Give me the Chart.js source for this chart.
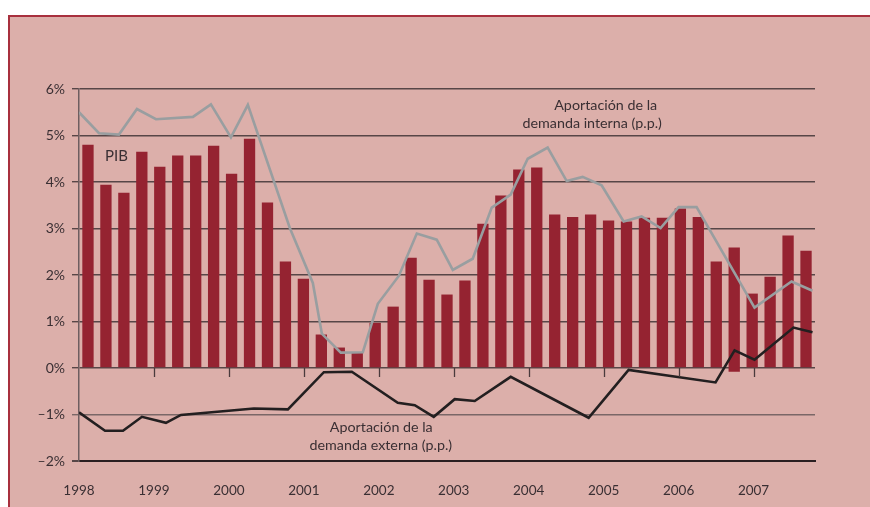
<!DOCTYPE html>
<html>
<head>
<meta charset="utf-8">
<script src="https://cdn.jsdelivr.net/npm/chart.js@4.4.1/dist/chart.umd.min.js"></script>
<style>
  html, body { margin: 0; padding: 0; background: #ffffff; width: 870px; height: 507px; overflow: hidden; }
  #frame { position: absolute; left: 8px; top: 15px; width: 880px; height: 520px;
           background: #dcafaa; border-left: 2px solid #a8303e; border-top: 2px solid #a8303e; }
  #c { position: absolute; left: 0; top: 0; }
</style>
</head>
<body>
<div id="frame"></div>
<canvas id="c" width="870" height="507"></canvas>
<script>
// ---- Data ----
const quarters = [
  "1998-T1","1998-T2","1998-T3","1998-T4","1999-T1","1999-T2","1999-T3","1999-T4",
  "2000-T1","2000-T2","2000-T3","2000-T4","2001-T1","2001-T2","2001-T3","2001-T4",
  "2002-T1","2002-T2","2002-T3","2002-T4","2003-T1","2003-T2","2003-T3","2003-T4",
  "2004-T1","2004-T2","2004-T3","2004-T4","2005-T1","2005-T2","2005-T3","2005-T4",
  "2006-T1","2006-T2","2006-T3","2006-T4","2007-T1","2007-T2","2007-T3","2007-T4","2008-T1"
];
const pib = [
  4.80, 3.94, 3.77, 4.65, 4.33, 4.57, 4.57, 4.78, 4.18, 4.93,
  3.56, 2.29, 1.92, 0.72, 0.44, 0.33, 0.97, 1.32, 2.37, 1.90,
  1.58, 1.88, 3.10, 3.71, 4.27, 4.31, 3.30, 3.25, 3.30, 3.17,
  3.15, 3.23, 3.23, 3.43, 3.25, 2.29, 2.59, 1.60, 1.96, 2.85, 2.52
];
const pibBase = [
  0,0,0,0,0,0,0,0,0,0, 0,0,0,0,0,0,0,0,0,0,
  0,0,0,0,0,0,0,0,0,0, 0,0,0,0,0,0,-0.08,0,0,0,0
];
const internaX = [
  1998.000, 1998.267, 1998.533, 1998.773, 1999.027, 1999.520, 1999.760, 2000.027,
  2000.253, 2000.813, 2001.120, 2001.240, 2001.493, 2001.787, 2001.987, 2002.267,
  2002.507, 2002.773, 2002.987, 2003.253, 2003.507, 2003.760, 2003.987, 2004.253,
  2004.507, 2004.720, 2004.973, 2005.267, 2005.507, 2005.760, 2006.000, 2006.240,
  2007.013, 2007.507, 2007.787
];
const internaY = [
  5.50, 5.05, 5.02, 5.57, 5.35, 5.40, 5.67, 4.96,
  5.66, 3.01, 1.83, 0.74, 0.33, 0.34, 1.38, 1.98,
  2.89, 2.76, 2.11, 2.35, 3.45, 3.73, 4.50, 4.74,
  4.02, 4.11, 3.93, 3.15, 3.26, 3.01, 3.46, 3.46,
  1.30, 1.86, 1.66
];
const externaX = [
  1998.000, 1998.347, 1998.587, 1998.840, 1999.160, 1999.360, 2000.333, 2000.787,
  2001.267, 2001.640, 2002.253, 2002.480, 2002.733, 2003.013, 2003.280, 2003.760,
  2004.800, 2005.333, 2006.493, 2006.747, 2007.013, 2007.533, 2007.787
];
const externaY = [
  -0.955, -1.35, -1.35, -1.05, -1.18, -1.01, -0.87, -0.89,
  -0.09, -0.08, -0.75, -0.80, -1.05, -0.67, -0.71, -0.19,
  -1.07, -0.04, -0.31, 0.38, 0.18, 0.87, 0.77
];
const yearTicks = [1998, 1999, 2000, 2001, 2002, 2003, 2004, 2005, 2006, 2007];
const yearLabels = ["1998", "1999", "2000", "2001", "2002", "2003", "2004", "2005", "2006", "2007"];
const yTickValues = [-2, -1, 0, 1, 2, 3, 4, 5, 6];
const yTickLabels = ["\u20132%", "\u20131%", "0%", "1%", "2%", "3%", "4%", "5%", "6%"];
const labelPIB = "PIB";
const labelInterna = ["Aportación de la", "demanda interna (p.p.)"];
const labelExterna = ["Aportación de la", "demanda externa (p.p.)"];

// ---- Style ----
const FONT = "Lato";
const TEXT = "#3a2f33";
const BAR = "#952331";
const GRAY = "#999ea0";
const BLACK = "#231f20";

const annotations = {
  id: "annotations",
  afterDatasetsDraw(chart) {
    const ctx = chart.ctx;
    const xs = chart.scales.x, ys = chart.scales.y;
    ctx.save();
    ctx.strokeStyle = "#4a3b3d";
    ctx.lineWidth = 1.3;
    const y0 = ys.getPixelForValue(0);
    yearTicks.slice(1).forEach(v => {
      const px = Math.round(xs.getPixelForValue(v)) + 0.5;
      ctx.beginPath(); ctx.moveTo(px, y0); ctx.lineTo(px, y0 + 9); ctx.stroke();
    });
    ctx.restore();
  },
  afterDraw(chart) {
    const ctx = chart.ctx;
    const xs = chart.scales.x, ys = chart.scales.y;
    ctx.save();
    ctx.fillStyle = TEXT;
    ctx.textBaseline = "alphabetic";
    ctx.font = "15px " + FONT;
    ctx.textAlign = "left";
    ctx.fillText(labelPIB, xs.getPixelForValue(1998.347), ys.getPixelForValue(4.46));
    ctx.textAlign = "center";
    ctx.font = "14.3px " + FONT;
    ctx.fillText(labelInterna[0], xs.getPixelForValue(2005.027), ys.getPixelForValue(5.555));
    ctx.fillText(labelInterna[1], xs.getPixelForValue(2004.847), ys.getPixelForValue(5.16));
    ctx.fillText(labelExterna[0], xs.getPixelForValue(2002.033), ys.getPixelForValue(-1.385));
    ctx.fillText(labelExterna[1], xs.getPixelForValue(2002.027), ys.getPixelForValue(-1.772));
    ctx.restore();
  }
};

new Chart(document.getElementById("c"), {
  type: "bar",
  data: {
    labels: quarters,
    datasets: [
      {
        type: "line",
        label: "Aportación de la demanda interna (p.p.)",
        data: internaX.map((x, i) => ({ x: x, y: internaY[i] })),
        xAxisID: "x", yAxisID: "y",
        borderColor: GRAY, borderWidth: 2.6, pointRadius: 0, tension: 0,
        borderJoinStyle: "miter", order: 0
      },
      {
        type: "line",
        label: "Aportación de la demanda externa (p.p.)",
        data: externaX.map((x, i) => ({ x: x, y: externaY[i] })),
        xAxisID: "x", yAxisID: "y",
        borderColor: BLACK, borderWidth: 2.6, pointRadius: 0, tension: 0,
        borderJoinStyle: "miter", order: 0
      },
      {
        type: "bar",
        label: "PIB",
        data: pib.map((v, i) => [pibBase[i], v]),
        xAxisID: "xb", yAxisID: "y",
        backgroundColor: BAR, borderWidth: 0,
        grouped: false,
        barPercentage: 0.63, categoryPercentage: 1.0, order: 1
      }
    ]
  },
  options: {
    responsive: false,
    animation: false,
    devicePixelRatio: 1,
    layout: { padding: { left: 0, top: 89, right: 55, bottom: 0 } },
    plugins: { legend: { display: false }, tooltip: { enabled: false } },
    scales: {
      xb: {
        type: "category",
        display: false,
        offset: true
      },
      x: {
        type: "linear",
        position: "bottom",
        offset: false,
        min: 1998,
        max: 2007.82,
        afterBuildTicks: (s) => { s.ticks = yearTicks.map(v => ({ value: v })); },
        afterFit: (s) => { s.height = 46; },
        grid: { display: false, drawTicks: false, offset: false },
        border: { display: true, color: "#2a1f21", width: 2 },
        ticks: {
          padding: 22,
          maxRotation: 0,
          autoSkip: false,
          color: TEXT,
          font: { family: FONT, size: 13.5 },
          callback: (v) => { const i = yearTicks.indexOf(v); return i >= 0 ? yearLabels[i] : ""; }
        }
      },
      y: {
        type: "linear",
        min: -2, max: 6,
        afterBuildTicks: (s) => { s.ticks = yTickValues.map(v => ({ value: v })); },
        afterFit: (s) => { s.width = 79; },
        border: { display: true, color: "#6e5e60", width: 1.5 },
        grid: {
          color: (c) => (c.tick && c.tick.value === -1) ? "#7a6767" : "#574647",
          lineWidth: (c) => (c.tick && c.tick.value === -2) ? 2 : 1.4,
          tickLength: 7,
          drawTicks: true
        },
        ticks: {
          padding: 7,
          color: TEXT,
          font: { family: FONT, size: 14 },
          callback: (v) => { const i = yTickValues.indexOf(v); return i >= 0 ? yTickLabels[i] : ""; }
        }
      }
    }
  },
  plugins: [annotations]
});
</script>
</body>
</html>
